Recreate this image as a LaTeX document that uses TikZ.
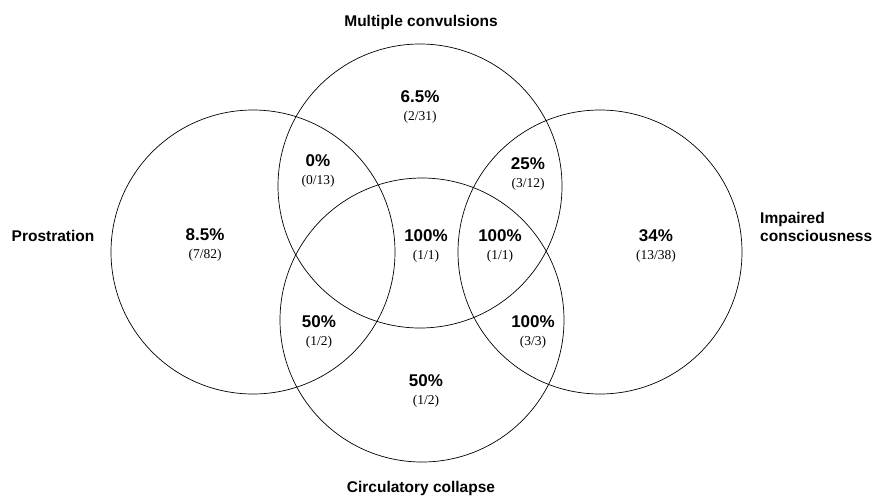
\documentclass[tikz,border=0pt]{standalone}
\usepackage{fontspec}
\setmainfont{Liberation Serif}
\setsansfont{Liberation Sans}
\begin{document}
\begin{tikzpicture}[x=1pt, y=-1pt,
    set/.style={draw, circle, line width=0.7pt, minimum size=284pt, inner sep=0pt},
    region/.style={align=center, inner sep=0pt, font=\sffamily\bfseries\fontsize{17}{18}\selectfont},
    title/.style={anchor=base, inner sep=0pt, font=\sffamily\bfseries\fontsize{15.5}{18}\selectfont}]
    \useasboundingbox (0,0) rectangle (875,496);

    % The four sets
    \node[set] (prost) at (253,252) {};
    \node[set] (conv) at (420,186) {};
    \node[set] (coll) at (422,320) {};
    \node[set] (impair) at (600,252) {};

    % Set names
    \node[title] (tconv) at (421,26) {Multiple convulsions};
    \node[title] (tcoll) at (421,492) {Circulatory collapse};
    \node[title] (tprost) at (53,241) {Prostration};
    \node[title, anchor=base west, align=left] (timpair) at (760,241) {Impaired\\consciousness};

    % Rates in each region
    \node[region] (rprost) at (205,245) {8.5\%\\{\rmfamily\mdseries\fontsize{13.5}{18}\selectfont (7/82)}};
    \node[region] (rpc) at (318,171) {0\%\\{\rmfamily\mdseries\fontsize{13.5}{18}\selectfont (0/13)}};
    \node[region] (rconv) at (420,107) {6.5\%\\{\rmfamily\mdseries\fontsize{13.5}{18}\selectfont (2/31)}};
    \node[region] (rci) at (528,174) {25\%\\{\rmfamily\mdseries\fontsize{13.5}{18}\selectfont (3/12)}};
    \node[region] (rmid) at (426,246) {100\%\\{\rmfamily\mdseries\fontsize{13.5}{18}\selectfont (1/1)}};
    \node[region] (rcci) at (500,246) {100\%\\{\rmfamily\mdseries\fontsize{13.5}{18}\selectfont (1/1)}};
    \node[region] (rimpair) at (656,246) {34\%\\{\rmfamily\mdseries\fontsize{13.5}{18}\selectfont (13/38)}};
    \node[region] (rpcoll) at (319,332) {50\%\\{\rmfamily\mdseries\fontsize{13.5}{18}\selectfont (1/2)}};
    \node[region] (rcolli) at (533,332) {100\%\\{\rmfamily\mdseries\fontsize{13.5}{18}\selectfont (3/3)}};
    \node[region] (rcoll) at (426,391) {50\%\\{\rmfamily\mdseries\fontsize{13.5}{18}\selectfont (1/2)}};
\end{tikzpicture}
\end{document}
